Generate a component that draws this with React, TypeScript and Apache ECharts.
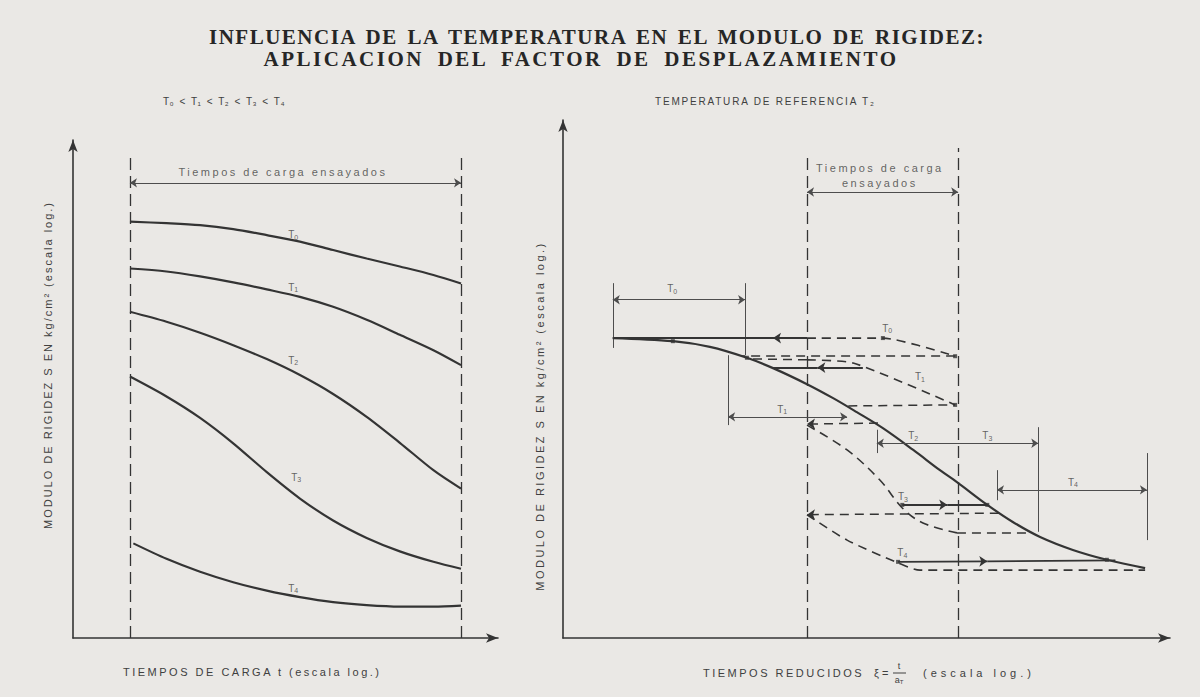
import React, { useEffect, useRef } from "react";
import * as echarts from "echarts";

const INK = "#343434";
const THIN = "#4d4d4d";
const TXT = "#404040";
const BG = "#eae8e5";

// ---------------- LEFT PANEL (tiempos de carga, log) ----------------
const leftX = [13.4, 22.0, 29.9, 37.7, 45.6, 53.4, 61.2, 69.1, 76.9, 84.8, 91.3];
const leftT0Y = [83.6, 83.3, 82.9, 82.1, 80.9, 79.6, 77.9, 76.2, 74.6, 72.9, 71.2];
const leftT1Y = [74.2, 73.6, 72.6, 71.4, 70.0, 68.5, 66.5, 63.9, 60.9, 57.8, 54.8];
const leftT2Y = [65.5, 63.5, 61.3, 58.8, 56.0, 52.8, 49.0, 44.4, 39.2, 33.7, 30.0];
const leftT3Y = [52.5, 48.5, 44.2, 39.1, 33.3, 28.0, 23.6, 20.1, 17.4, 15.3, 13.9];
const leftT4X = [14.2, 22.0, 29.9, 37.7, 45.6, 53.4, 61.2, 69.1, 76.9, 84.8, 91.3];
const leftT4Y = [19.0, 15.9, 13.3, 11.2, 9.5, 8.2, 7.2, 6.6, 6.3, 6.3, 6.5];
const leftLabelSub = ["0", "1", "2", "3", "4"];
const leftLabelX = [51.8, 51.8, 51.8, 52.5, 51.8];
const leftLabelY = [81.0, 70.4, 55.8, 32.3, 10.0];
const leftWindowLines = [
  [[13.4, 0], [13.4, 96.4]],
  [[91.3, 0], [91.3, 96.4]],
];
const leftWindowArrow = [[[13.4, 91.4], [91.3, 91.4]]];
const leftWindowText = ["Tiempos de carga ensayados"];
const leftWindowTextX = [49.4];
const leftWindowTextY = [93.6];

// ---------------- RIGHT PANEL (tiempos reducidos, log) ----------------
const rMasterX = [8.2, 18.1, 24.2, 30.3, 34.6, 40.2, 44.5, 48.4, 52.7, 57.7, 62.1, 64.9, 69.9, 74.1, 78.6, 84.0, 89.6, 95.9];
const rMasterY = [57.9, 57.3, 56.2, 54.1, 52.1, 49.0, 46.3, 43.6, 40.5, 36.3, 32.4, 30.1, 25.7, 22.4, 19.5, 17.0, 15.1, 13.5];
const rT0cX = [40.2, 52.7, 64.6];
const rT0cY = [57.9, 57.9, 54.4];
const rT1cX = [40.2, 47.8, 64.6];
const rT1cY = [53.7, 53.1, 45.0];
const rT3cX = [40.2, 46.8, 52.2, 55.9, 59.3, 64.9];
const rT3cY = [41.1, 36.3, 30.5, 25.1, 22.2, 20.3];
const rT4cX = [40.2, 46.8, 55.2, 58.8, 95.9];
const rT4cY = [23.8, 18.9, 14.5, 13.1, 13.1];

const rWindowLines = [
  [[40.2, 0], [40.2, 93.0]],
  [[65.1, 0], [65.1, 94.6]],
];
const rDims = [
  [[8.2, 65.3], [30.0, 65.3]],
  [[27.2, 42.7], [46.8, 42.7]],
  [[40.2, 86.1], [65.1, 86.1]],
  [[51.7, 37.6], [78.3, 37.6]],
  [[71.5, 28.6], [96.2, 28.6]],
];
const rTicks = [
  [[8.2, 68.5], [8.2, 56.0]],
  [[30.0, 68.5], [30.0, 54.6]],
  [[27.2, 54.6], [27.2, 41.1]],
  [[51.7, 40.2], [51.7, 35.7]],
  [[78.3, 40.7], [78.3, 20.5]],
  [[71.5, 32.4], [71.5, 26.6]],
  [[96.2, 35.7], [96.2, 18.9]],
];
const rSolidArrow = [
  [[40.2, 57.9], [34.6, 57.9]],
  [[49.4, 52.2], [41.9, 52.2]],
  [[55.9, 25.7], [63.3, 25.7]],
  [[55.2, 14.7], [69.9, 14.8]],
];
const rSolidPlain = [
  [[34.6, 57.9], [8.2, 57.9]],
  [[41.9, 52.2], [34.6, 52.2]],
  [[63.3, 25.7], [69.9, 25.7]],
  [[69.9, 14.8], [91.0, 15.0]],
];
const rDashArrow = [
  [[51.9, 41.5], [40.2, 41.3]],
  [[71.8, 24.1], [40.2, 23.8]],
];
const rDashPlain = [
  [[64.6, 54.4], [29.5, 54.4]],
  [[40.2, 53.7], [30.4, 53.9]],
  [[47.0, 44.8], [64.6, 45.0]],
  [[64.9, 20.3], [76.9, 20.3]],
];
const rMarkX = [52.7, 64.6, 64.6, 55.9, 69.9, 55.2, 89.6, 18.1, 30.3];
const rMarkY = [57.9, 54.4, 45.0, 25.7, 25.7, 14.7, 15.1, 57.3, 54.1];
const rLabelSub = ["0", "0", "1", "1", "2", "3", "3", "4", "4"];
const rLabelX = [18.0, 53.4, 58.8, 36.1, 57.7, 69.9, 56.0, 84.0, 55.9];
const rLabelY = [67.4, 59.8, 50.4, 44.2, 39.0, 39.0, 27.3, 30.1, 16.5];
const rWindowText = ["Tiempos de carga", "ensayados"];
const rWindowTextX = [52.2, 52.2];
const rWindowTextY = [90.7, 87.8];

// ---------------- TEXTS ----------------
const title1 = "INFLUENCIA DE LA TEMPERATURA EN EL MODULO DE RIGIDEZ:";
const title2 = "APLICACION DEL FACTOR DE DESPLAZAMIENTO";
const leftNote = "T₀ < T₁ < T₂ < T₃ < T₄";
const rightNote = "TEMPERATURA DE REFERENCIA T₂";
const yName = "MODULO DE RIGIDEZ S EN kg/cm² (escala log.)";
const leftXName = "TIEMPOS DE CARGA t (escala log.)";
const rightXName = "TIEMPOS REDUCIDOS";
const rightXSym = "ξ =";
const rightXTail = "(escala log.)";

const css = `
text[style*="zspT"]{letter-spacing:1.5px;word-spacing:3px;}
text[style*="zspU"]{letter-spacing:2.5px;word-spacing:6px;}
text[style*="zsp1"]{letter-spacing:2.5px;}
text[style*="zsp2"]{letter-spacing:2px;}
text[style*="zsp3"]{letter-spacing:4px;}
text[style*="zsp4"]{letter-spacing:1.8px;}
text[style*="zsp5"]{letter-spacing:0.5px;word-spacing:2px;}
`;

const pairs = (xs: number[], ys: number[]) => xs.map((x, i) => [x, ys[i]]);

function curve(g: number, xs: number[], ys: number[], dashed: boolean, smooth: number | boolean) {
  return {
    type: "line",
    xAxisIndex: g,
    yAxisIndex: g,
    data: pairs(xs, ys),
    smooth,
    showSymbol: false,
    symbol: "none",
    silent: true,
    z: 3,
    lineStyle: { color: INK, width: dashed ? 1.6 : 2.2, type: dashed ? [9, 6] : "solid" },
  };
}

function segs(g: number, list: number[][][], style: any, symbol: string[], size = 7) {
  return {
    type: "lines",
    coordinateSystem: "cartesian2d",
    xAxisIndex: g,
    yAxisIndex: g,
    symbol,
    symbolSize: size,
    silent: true,
    z: 4,
    lineStyle: { opacity: 1, ...style },
    data: list.map((c) => ({ coords: c })),
  };
}

function tLabels(g: number, xs: number[], ys: number[], subs: string[]) {
  return {
    type: "scatter",
    xAxisIndex: g,
    yAxisIndex: g,
    symbolSize: 0,
    silent: true,
    z: 6,
    data: xs.map((x, i) => ({ name: subs[i], value: [x, ys[i]] })),
    label: {
      show: true,
      position: "inside",
      formatter: (p: any) => `{t|T}{s|${p.name}}`,
      rich: {
        t: { fontSize: 10, color: TXT, fontFamily: "Liberation Sans" },
        s: { fontSize: 7, color: TXT, fontFamily: "Liberation Sans", padding: [5, 0, 0, 0] },
      },
    },
  };
}

function textLabels(g: number, xs: number[], ys: number[], texts: string[]) {
  return {
    type: "scatter",
    xAxisIndex: g,
    yAxisIndex: g,
    symbolSize: 0,
    silent: true,
    z: 6,
    data: xs.map((x, i) => ({ name: texts[i], value: [x, ys[i]] })),
    label: {
      show: true,
      position: "inside",
      formatter: "{b}",
      fontSize: 11,
      color: TXT,
      fontFamily: "zsp1, Liberation Sans",
    },
  };
}

function axis(gridIndex: number) {
  return {
    type: "value",
    gridIndex,
    min: 0,
    max: 100,
    axisLine: {
      show: true,
      onZero: false,
      symbol: ["none", "arrow"],
      symbolSize: [7, 12],
      lineStyle: { color: INK, width: 1.6 },
    },
    axisTick: { show: false },
    axisLabel: { show: false },
    splitLine: { show: false },
  };
}

function buildOption() {
  const thin = { color: THIN, width: 1 };
  const winDash = { color: INK, width: 1.3, type: [12, 6] };
  const solid = { color: INK, width: 1.8 };
  const dash = { color: INK, width: 1.5, type: [9, 6] };
  const txtFont = "zsp1, Liberation Sans";

  return {
    animation: false,
    backgroundColor: BG,
    grid: [
      { left: 73, top: 140, right: 702, bottom: 59 },
      { left: 563, top: 120, right: 30, bottom: 59 },
    ],
    xAxis: [axis(0), axis(1)],
    yAxis: [axis(0), axis(1)],
    series: [
      // left panel
      segs(0, leftWindowLines, winDash, ["none", "none"]),
      segs(0, leftWindowArrow, thin, ["arrow", "arrow"], 7),
      curve(0, leftX, leftT0Y, false, 0.3),
      curve(0, leftX, leftT1Y, false, 0.3),
      curve(0, leftX, leftT2Y, false, 0.3),
      curve(0, leftX, leftT3Y, false, 0.3),
      curve(0, leftT4X, leftT4Y, false, 0.3),
      tLabels(0, leftLabelX, leftLabelY, leftLabelSub),
      textLabels(0, leftWindowTextX, leftWindowTextY, leftWindowText),
      // right panel
      segs(1, rWindowLines, winDash, ["none", "none"]),
      segs(1, rDims, thin, ["arrow", "arrow"], 7),
      segs(1, rTicks, thin, ["none", "none"]),
      curve(1, rMasterX, rMasterY, false, 0.35),
      curve(1, rT0cX, rT0cY, true, 0.2),
      curve(1, rT1cX, rT1cY, true, 0.2),
      curve(1, rT3cX, rT3cY, true, 0.35),
      curve(1, rT4cX, rT4cY, true, 0.25),
      segs(1, rSolidArrow, solid, ["none", "arrow"], 8),
      segs(1, rSolidPlain, solid, ["none", "none"]),
      segs(1, rDashArrow, dash, ["none", "arrow"], 8),
      segs(1, rDashPlain, dash, ["none", "none"]),
      {
        type: "scatter",
        xAxisIndex: 1,
        yAxisIndex: 1,
        symbol: "rect",
        symbolSize: 4,
        silent: true,
        z: 5,
        itemStyle: { color: INK },
        data: pairs(rMarkX, rMarkY),
      },
      tLabels(1, rLabelX, rLabelY, rLabelSub),
      textLabels(1, rWindowTextX, rWindowTextY, rWindowText),
    ],
    graphic: [
      {
        type: "text",
        x: 597,
        y: 37,
        style: { text: title1, fill: "#262626", fontSize: 21, fontWeight: "bold", fontFamily: "zspT, Liberation Serif", align: "center", verticalAlign: "middle" },
      },
      {
        type: "text",
        x: 581,
        y: 59,
        style: { text: title2, fill: "#262626", fontSize: 21, fontWeight: "bold", fontFamily: "zspU, Liberation Serif", align: "center", verticalAlign: "middle" },
      },
      {
        type: "text",
        x: 163,
        y: 101,
        style: { text: leftNote, fill: TXT, fontSize: 10, fontFamily: "zsp5, Liberation Sans", align: "left", verticalAlign: "middle" },
      },
      {
        type: "text",
        x: 655,
        y: 101,
        style: { text: rightNote, fill: TXT, fontSize: 10, fontFamily: "zsp4, Liberation Sans", align: "left", verticalAlign: "middle" },
      },
      {
        type: "text",
        x: 48,
        y: 365,
        rotation: Math.PI / 2,
        style: { text: yName, fill: TXT, fontSize: 11, fontFamily: "zsp2, Liberation Sans", align: "center", verticalAlign: "middle" },
      },
      {
        type: "text",
        x: 540,
        y: 416,
        rotation: Math.PI / 2,
        style: { text: yName, fill: TXT, fontSize: 11, fontFamily: txtFont, align: "center", verticalAlign: "middle" },
      },
      {
        type: "text",
        x: 123,
        y: 672,
        style: { text: leftXName, fill: TXT, fontSize: 11, fontFamily: txtFont, align: "left", verticalAlign: "middle" },
      },
      {
        type: "text",
        x: 703,
        y: 673,
        style: { text: rightXName, fill: TXT, fontSize: 11, fontFamily: txtFont, align: "left", verticalAlign: "middle" },
      },
      {
        type: "text",
        x: 874,
        y: 673,
        style: { text: rightXSym, fill: TXT, fontSize: 11, fontFamily: "Liberation Sans", align: "left", verticalAlign: "middle" },
      },
      {
        type: "text",
        x: 899,
        y: 666,
        style: { text: "t", fill: TXT, fontSize: 9, fontFamily: "Liberation Sans", align: "center", verticalAlign: "middle" },
      },
      {
        type: "line",
        shape: { x1: 893, y1: 673, x2: 906, y2: 673 },
        style: { stroke: TXT, lineWidth: 1 },
      },
      {
        type: "text",
        x: 899,
        y: 680,
        style: {
          text: "{a|a}{s|T}",
          fill: TXT,
          align: "center",
          verticalAlign: "middle",
          rich: {
            a: { fontSize: 9, fill: TXT, fontFamily: "Liberation Sans" },
            s: { fontSize: 6, fill: TXT, fontFamily: "Liberation Sans", padding: [4, 0, 0, 0] },
          },
        },
      },
      {
        type: "text",
        x: 923,
        y: 673,
        style: { text: rightXTail, fill: TXT, fontSize: 11, fontFamily: "zsp3, Liberation Sans", align: "left", verticalAlign: "middle" },
      },
    ],
  };
}

export default function App() {
  const ref = useRef<HTMLDivElement>(null);
  useEffect(() => {
    if (!ref.current) return;
    const chart = echarts.init(ref.current, null, { renderer: "svg" });
    chart.setOption(buildOption() as any);
    return () => chart.dispose();
  }, []);
  return (
    <>
      <style>{css}</style>
      <div
        ref={ref}
        style={{ position: "absolute", left: 0, top: 0, width: 1200, height: 697, background: BG }}
      />
    </>
  );
}
